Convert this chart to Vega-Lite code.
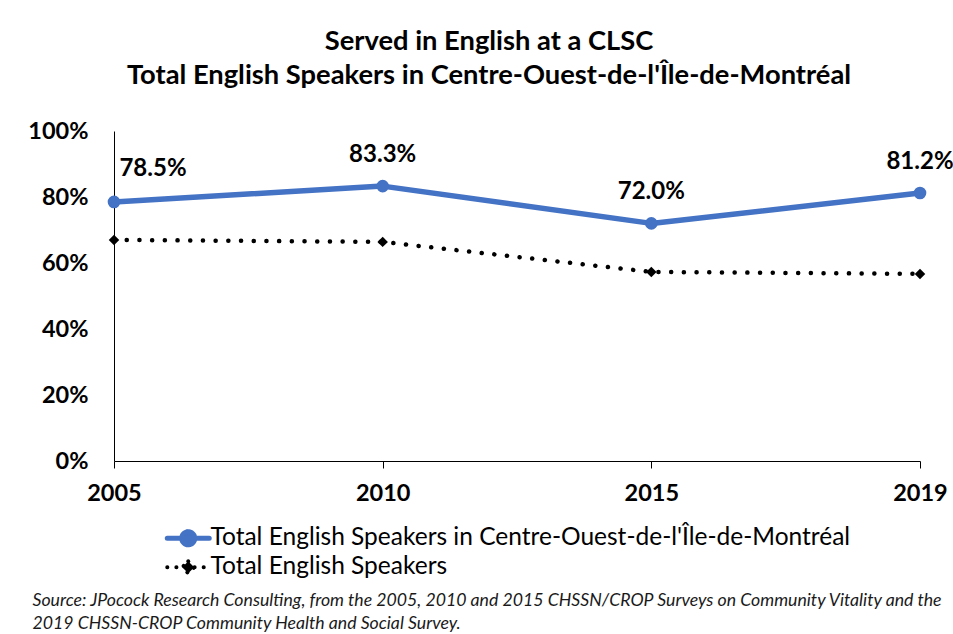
{
  "$schema": "https://vega.github.io/schema/vega-lite/v6.json",
  "autosize": "none",
  "width": 806,
  "height": 330,
  "padding": {"left": 114, "top": 131, "right": 33, "bottom": 173},
  "background": "white",
  "config": {
    "font": "Lato",
    "view": {"stroke": null},
    "title": {"color": "#000000"}
  },
  "title": {
    "text": ["Served in English at a CLSC", "Total English Speakers in Centre-Ouest-de-l'Île-de-Montréal"],
    "font": "Lato",
    "fontSize": 27.3,
    "fontWeight": "bold",
    "anchor": "middle",
    "dx": -28,
    "lineHeight": 34,
    "offset": 30,
    "color": "#000000"
  },
  "data": {
    "values": [
      {"year": "2005", "series": "Total English Speakers in Centre-Ouest-de-l'Île-de-Montréal", "value": 0.785},
      {"year": "2010", "series": "Total English Speakers in Centre-Ouest-de-l'Île-de-Montréal", "value": 0.833},
      {"year": "2015", "series": "Total English Speakers in Centre-Ouest-de-l'Île-de-Montréal", "value": 0.720},
      {"year": "2019", "series": "Total English Speakers in Centre-Ouest-de-l'Île-de-Montréal", "value": 0.812},
      {"year": "2005", "series": "Total English Speakers", "value": 0.670},
      {"year": "2010", "series": "Total English Speakers", "value": 0.664},
      {"year": "2015", "series": "Total English Speakers", "value": 0.573},
      {"year": "2019", "series": "Total English Speakers", "value": 0.567}
    ]
  },
  "encoding": {
    "x": {
      "field": "year",
      "type": "ordinal",
      "scale": {"type": "point", "padding": 0},
      "axis": {
        "labelAngle": 0,
        "labelFont": "Lato",
        "labelFontSize": 23.5,
        "labelFontWeight": "bold",
        "labelColor": "#000000",
        "labelPadding": 13,
        "tickSize": 7,
        "tickColor": "#000000",
        "domainColor": "#000000",
        "domainWidth": 1,
        "grid": false,
        "title": ["Source: JPocock Research Consulting, from the 2005, 2010  and 2015  CHSSN/CROP Surveys on Community Vitality and the", "2019  CHSSN-CROP Community Health and Social Survey."],
        "titleFont": "Lato",
        "titleFontStyle": "italic",
        "titleFontWeight": "normal",
        "titleFontSize": 17.7,
        "titleColor": "#1a1a1a",
        "titleAnchor": "start",
        "titleAlign": "left",
        "titleBaseline": "top",
        "titleX": -82,
        "titleY": 130,
        "titleLineHeight": 23
      }
    },
    "y": {
      "field": "value",
      "type": "quantitative",
      "scale": {"domain": [0, 1]},
      "axis": {
        "values": [0, 0.2, 0.4, 0.6, 0.8, 1],
        "format": ".0%",
        "labelFont": "Lato",
        "labelFontSize": 23.5,
        "labelFontWeight": "bold",
        "labelColor": "#000000",
        "labelPadding": 26,
        "ticks": false,
        "grid": false,
        "domainColor": "#000000",
        "domainWidth": 1,
        "title": null
      }
    }
  },
  "layer": [
    {
      "transform": [{"filter": "datum.series === 'Total English Speakers'"}],
      "mark": {"type": "line", "color": "#000000", "strokeWidth": 4.5, "strokeDash": [0.1, 12.6], "strokeCap": "round"}
    },
    {
      "transform": [{"filter": "datum.series !== 'Total English Speakers'"}],
      "mark": {"type": "line", "strokeWidth": 5.5, "strokeCap": "round", "strokeJoin": "round"},
      "encoding": {
        "color": {
          "field": "series",
          "type": "nominal",
          "scale": {
            "domain": ["Total English Speakers in Centre-Ouest-de-l'Île-de-Montréal", "Total English Speakers"],
            "range": ["#4472C4", "#000000"]
          },
          "legend": {
            "orient": "none",
            "legendX": 62,
            "legendY": 395,
            "direction": "vertical",
            "title": null,
            "labelFont": "Lato",
            "labelFontSize": 24.5,
            "labelColor": "#000000",
            "labelLimit": 900,
            "labelOffset": 10,
            "rowPadding": -4,
            "symbolSize": 400,
            "encode": {
              "symbols": {
                "update": {
                  "shape": {"signal": "datum.value === 'Total English Speakers' ? 'M-2.1,0H2.1M0,-0.6L0.6,0L0,0.6L-0.6,0Z' : 'M-2.1,0H2.1M0.65,0A0.65,0.65,0,1,1,-0.65,0A0.65,0.65,0,1,1,0.65,0Z'"},
                  "size": {"value": 400},
                  "fill": {"signal": "datum.value === 'Total English Speakers' ? '#000000' : '#4472C4'"},
                  "stroke": {"signal": "datum.value === 'Total English Speakers' ? '#000000' : '#4472C4'"},
                  "strokeWidth": {"signal": "datum.value === 'Total English Speakers' ? 4 : 5"},
                  "strokeDash": {"signal": "datum.value === 'Total English Speakers' ? [0.1, 9] : [1, 0]"},
                  "strokeCap": {"value": "round"},
                  "opacity": {"value": 1},
                  "fillOpacity": {"value": 1},
                  "strokeOpacity": {"value": 1}
                }
              }
            }
          }
        }
      }
    },
    {
      "transform": [{"filter": "datum.series === 'Total English Speakers'"}],
      "mark": {"type": "point", "shape": "diamond", "filled": true, "color": "#000000", "size": 110, "opacity": 1}
    },
    {
      "transform": [{"filter": "datum.series !== 'Total English Speakers'"}],
      "mark": {"type": "point", "shape": "circle", "filled": true, "color": "#4472C4", "size": 160, "opacity": 1}
    },
    {
      "transform": [{"filter": "datum.series !== 'Total English Speakers' && datum.year !== '2005'"}],
      "mark": {"type": "text", "font": "Lato", "fontSize": 24, "fontWeight": "bold", "color": "#000000", "dy": -31, "align": "center", "baseline": "middle"},
      "encoding": {"text": {"field": "value", "type": "quantitative", "format": ".1%"}}
    },
    {
      "transform": [{"filter": "datum.series !== 'Total English Speakers' && datum.year === '2005'"}],
      "mark": {"type": "text", "font": "Lato", "fontSize": 24, "fontWeight": "bold", "color": "#000000", "dy": -33, "dx": 39, "align": "center", "baseline": "middle"},
      "encoding": {"text": {"field": "value", "type": "quantitative", "format": ".1%"}}
    }
  ]
}
